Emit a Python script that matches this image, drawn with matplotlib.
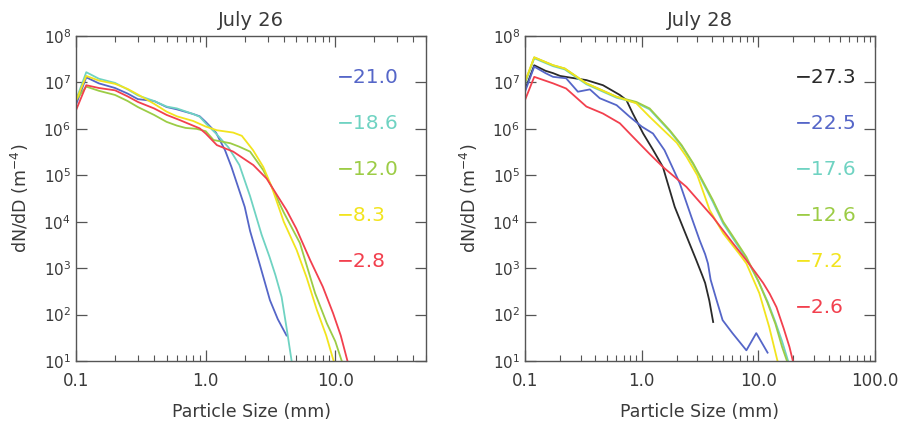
import numpy as np
import matplotlib
matplotlib.use("Agg")
import matplotlib.pyplot as plt
from matplotlib.ticker import LogLocator, FixedLocator, FixedFormatter, NullFormatter

# colours of the temperature curves
c_black = "#2a2a2a"
c_blue = "#5566c8"
c_cyan = "#6fd3c2"
c_green = "#9ccc45"
c_yellow = "#f2e41e"
c_red = "#f2404e"

# ---- July 26 (sizes in mm, log10 of dN/dD in m^-4) ----
b26_x = [0.1, 0.12, 0.15, 0.2, 0.25, 0.3, 0.4, 0.5, 0.6, 0.8, 0.9, 1.0, 1.2, 1.41, 1.58, 2.0, 2.2, 2.6, 3.13, 3.6, 4.2]
b26_n = [6.52, 7.11, 6.98, 6.88, 6.76, 6.64, 6.6, 6.47, 6.42, 6.32, 6.27, 6.15, 5.92, 5.54, 5.18, 4.32, 3.8, 3.1, 2.31, 1.9, 1.55]

c26_x = [0.1, 0.12, 0.15, 0.2, 0.25, 0.3, 0.4, 0.5, 0.6, 0.8, 0.9, 1.0, 1.2, 1.5, 1.82, 2.2, 2.7, 3.1, 3.45, 3.85, 4.24, 4.6, 4.75]
c26_n = [6.62, 7.22, 7.08, 6.99, 6.85, 6.72, 6.6, 6.48, 6.44, 6.32, 6.26, 6.12, 5.9, 5.6, 5.22, 4.55, 3.72, 3.25, 2.85, 2.38, 1.65, 1.0, 0.7]

g26_x = [0.1, 0.12, 0.15, 0.2, 0.25, 0.3, 0.4, 0.5, 0.6, 0.7, 0.85, 1.0, 1.15, 1.55, 1.8, 2.2, 2.78, 3.23, 4.0, 5.33, 6.98, 8.6, 10.0, 11.2]
g26_n = [6.62, 6.91, 6.82, 6.73, 6.6, 6.47, 6.3, 6.15, 6.07, 6.02, 6.0, 5.95, 5.76, 5.69, 5.62, 5.51, 5.11, 4.75, 4.2, 3.54, 2.46, 1.81, 1.42, 1.0]

y26_x = [0.1, 0.12, 0.15, 0.2, 0.25, 0.3, 0.4, 0.5, 0.6, 0.8, 1.0, 1.22, 1.63, 1.9, 2.32, 2.78, 3.23, 4.0, 5.03, 6.0, 7.2, 8.5, 9.7]
y26_n = [6.6, 7.14, 7.04, 6.97, 6.86, 6.74, 6.54, 6.37, 6.27, 6.17, 6.05, 5.97, 5.92, 5.85, 5.54, 5.18, 4.75, 4.0, 3.39, 2.8, 2.1, 1.55, 1.0]

r26_x = [0.1, 0.12, 0.15, 0.2, 0.25, 0.3, 0.4, 0.5, 0.63, 0.9, 1.0, 1.22, 1.63, 2.33, 2.95, 3.5, 4.2, 5.0, 6.4, 8.0, 9.6, 11.0, 12.4]
r26_n = [6.4, 6.94, 6.88, 6.83, 6.7, 6.58, 6.44, 6.3, 6.19, 6.01, 5.9, 5.65, 5.51, 5.22, 4.93, 4.6, 4.25, 3.85, 3.17, 2.6, 2.03, 1.55, 1.0]

# ---- July 28 ----
k28_x = [0.1, 0.12, 0.15, 0.174, 0.2, 0.25, 0.336, 0.466, 0.65, 0.74, 0.84, 1.03, 1.25, 1.52, 1.92, 2.3, 2.94, 3.3, 3.5, 3.8, 4.1]
k28_n = [6.84, 7.37, 7.25, 7.2, 7.14, 7.1, 7.05, 6.94, 6.73, 6.62, 6.33, 5.9, 5.55, 5.18, 4.32, 3.83, 3.17, 2.85, 2.68, 2.3, 1.84]

b28_x = [0.1, 0.12, 0.15, 0.174, 0.225, 0.284, 0.36, 0.437, 0.61, 0.79, 1.0, 1.25, 1.57, 2.12, 2.67, 3.14, 3.5, 3.7, 3.9, 4.4, 4.94, 6.0, 7.9, 9.6, 12.0]
b28_n = [6.8, 7.34, 7.2, 7.12, 7.09, 6.8, 6.85, 6.66, 6.51, 6.26, 6.05, 5.9, 5.54, 4.83, 4.1, 3.6, 3.3, 3.1, 2.75, 2.3, 1.88, 1.6, 1.23, 1.6, 1.18]

c28_x = [0.1, 0.12, 0.174, 0.219, 0.336, 0.61, 0.9, 1.17, 1.74, 2.2, 2.76, 3.3, 4.07, 5.0, 6.0, 7.9, 10.0, 12.0, 14.0, 16.0, 18.0]
c28_n = [6.98, 7.52, 7.35, 7.28, 6.96, 6.67, 6.56, 6.42, 5.95, 5.63, 5.24, 4.87, 4.43, 3.96, 3.66, 3.2, 2.72, 2.28, 1.84, 1.42, 1.0]

g28_x = [0.1, 0.12, 0.174, 0.219, 0.336, 0.61, 0.9, 1.17, 1.74, 2.2, 2.76, 3.3, 4.07, 5.0, 6.0, 7.9, 10.0, 12.0, 14.0, 16.0, 17.6]
g28_n = [7.0, 7.54, 7.37, 7.3, 6.98, 6.69, 6.58, 6.44, 5.97, 5.65, 5.26, 4.9, 4.47, 4.0, 3.7, 3.24, 2.72, 2.25, 1.8, 1.3, 1.0]

y28_x = [0.1, 0.12, 0.174, 0.219, 0.336, 0.61, 0.9, 1.17, 1.5, 2.0, 2.42, 3.0, 3.83, 5.0, 6.9, 7.9, 10.2, 12.4, 14.6]
y28_n = [7.02, 7.54, 7.37, 7.3, 6.98, 6.69, 6.55, 6.26, 6.0, 5.7, 5.4, 5.0, 4.25, 3.75, 3.3, 3.1, 2.46, 1.73, 1.0]

r28_x = [0.1, 0.12, 0.174, 0.225, 0.336, 0.466, 0.65, 0.84, 1.17, 1.52, 2.42, 4.08, 6.0, 7.9, 9.5, 11.0, 12.5, 14.3, 16.5, 18.5, 20.0]
r28_n = [6.62, 7.12, 6.98, 6.87, 6.48, 6.33, 6.12, 5.83, 5.46, 5.18, 4.75, 4.1, 3.55, 3.17, 2.9, 2.68, 2.45, 2.16, 1.7, 1.3, 0.95]

temps26 = ["\u221221.0", "\u221218.6", "\u221212.0", "\u22128.3", "\u22122.8"]
temps28 = ["\u221227.3", "\u221222.5", "\u221217.6", "\u221212.6", "\u22127.2", "\u22122.6"]

curves26 = [(b26_x, b26_n, c_blue), (c26_x, c26_n, c_cyan), (g26_x, g26_n, c_green),
            (y26_x, y26_n, c_yellow), (r26_x, r26_n, c_red)]
curves28 = [(k28_x, k28_n, c_black), (b28_x, b28_n, c_blue), (c28_x, c28_n, c_cyan),
            (g28_x, g28_n, c_green), (y28_x, y28_n, c_yellow), (r28_x, r28_n, c_red)]

txt = "#3a3a3a"
plt.rcParams["font.family"] = "DejaVu Sans"

fig = plt.figure(figsize=(9, 4.25), dpi=100)
ax1 = fig.add_axes([76 / 900, 64 / 425, 350 / 900, 325 / 425])
ax2 = fig.add_axes([525 / 900, 64 / 425, 350 / 900, 325 / 425])


def style(ax, xmax, xticks, title):
    ax.set_xscale("log")
    ax.set_yscale("log")
    ax.set_xlim(0.1, xmax)
    ax.set_ylim(10, 1e8)
    for s in ax.spines.values():
        s.set_color("#555555")
        s.set_linewidth(1.0)
    ax.xaxis.set_major_locator(FixedLocator(xticks))
    ax.xaxis.set_major_formatter(FixedFormatter(["%.1f" % v for v in xticks]))
    ax.xaxis.set_minor_locator(LogLocator(base=10, subs=np.arange(2, 10), numticks=20))
    ax.xaxis.set_minor_formatter(NullFormatter())
    ax.yaxis.set_major_locator(FixedLocator([10.0 ** e for e in range(1, 9)]))
    ax.yaxis.set_major_formatter(FixedFormatter(["$10^{%d}$" % e for e in range(1, 9)]))
    ax.yaxis.set_minor_locator(FixedLocator([]))
    ax.tick_params(which="both", direction="in", top=True, right=True, colors="#555555",
                   labelcolor=txt)
    ax.tick_params(axis="y", labelsize=11)
    ax.tick_params(axis="x", labelsize=12, pad=8)
    ax.tick_params(which="major", length=8, width=0.9)
    ax.tick_params(which="minor", length=4, width=0.8)
    ax.set_xlabel("Particle Size (mm)", fontsize=12.5, color=txt, labelpad=9)
    ax.set_ylabel("dN/dD (m$^{-4}$)", fontsize=12.5, color=txt, labelpad=9)
    ax.set_title(title, fontsize=14, color=txt, pad=7)


style(ax1, 50, [0.1, 1.0, 10.0], "July 26")
style(ax2, 100, [0.1, 1.0, 10.0, 100.0], "July 28")

for x, n, col in curves26:
    ax1.plot(x, 10.0 ** np.array(n), color=col, lw=1.3)
for x, n, col in curves28:
    ax2.plot(x, 10.0 ** np.array(n), color=col, lw=1.3)

# temperature labels (deg C)
for i, (t, c) in enumerate(zip(temps26, [c for _, _, c in curves26])):
    ax1.text(0.745, 0.872 - i * 0.1415, t, transform=ax1.transAxes, color=c,
             fontsize=14.5, va="center", ha="left")
for i, (t, c) in enumerate(zip(temps28, [c for _, _, c in curves28])):
    ax2.text(0.77, 0.872 - i * 0.1415, t, transform=ax2.transAxes, color=c,
             fontsize=14.5, va="center", ha="left")

fig.savefig("out.png", dpi=100)
